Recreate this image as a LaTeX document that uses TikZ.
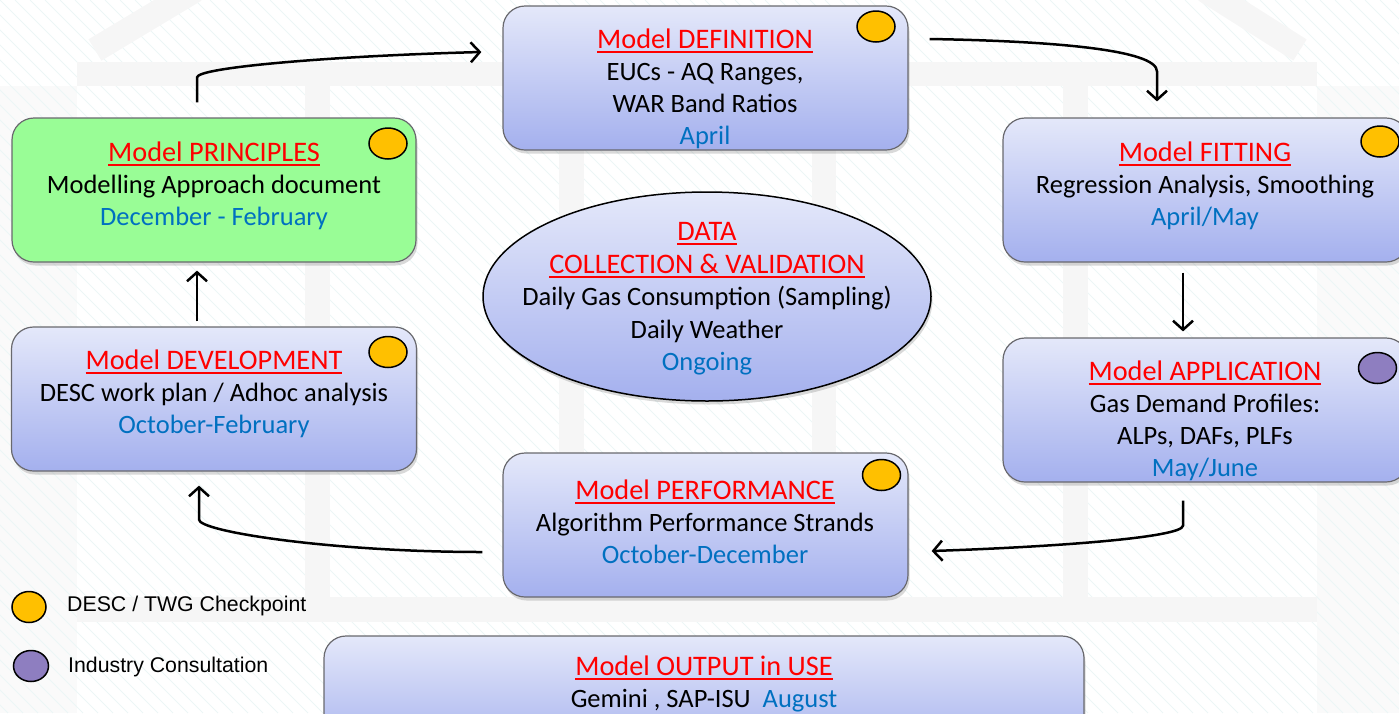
\documentclass[tikz,border=0pt]{standalone}
\usepackage{fontspec}
\setmainfont{Carlito}
\newfontfamily\arialf{Liberation Sans}
\usetikzlibrary{arrows.meta,shapes.geometric,shadows}
\definecolor{titlered}{RGB}{255,0,0}
\definecolor{dateblue}{RGB}{0,112,192}
\definecolor{bltop}{RGB}{228,232,250}
\definecolor{blbot}{RGB}{164,176,238}
\definecolor{boxedge}{RGB}{105,105,110}
\definecolor{greenfill}{RGB}{153,253,150}
\definecolor{dotorange}{RGB}{255,192,0}
\definecolor{dotpurple}{RGB}{142,126,192}
\definecolor{bandgray}{RGB}{246,246,246}
\definecolor{outergray}{RGB}{250,250,250}
\definecolor{hatchc}{RGB}{236,246,246}
\newcommand{\ttl}[1]{\textcolor{titlered}{\fontsize{28.3}{32}\selectfont\setbox0\hbox{#1}\rlap{\vrule height -2.6pt depth 4.4pt width \wd0}\box0}}
\newcommand{\dte}[1]{\textcolor{dateblue}{#1}}
\tikzset{
  basebox/.style={draw=boxedge, line width=1.2pt, rounded corners=22pt, inner sep=0pt,
    drop shadow={shadow xshift=1.5pt, shadow yshift=-3.5pt, opacity=0.3}},
  bluestage/.style={basebox, top color=bltop, bottom color=blbot, minimum width=405pt, minimum height=144pt},
  greenstage/.style={basebox, fill=greenfill, minimum width=404pt, minimum height=144pt},
  txt/.style={align=center, font=\fontsize{26.5}{32}\selectfont, inner sep=0pt},
  dot/.style={ellipse, draw=black, line width=1.5pt, minimum width=38pt, minimum height=31pt, inner sep=0pt},
  arr/.style={line width=2.5pt, -{Straight Barb[length=9pt,width=20pt]}},
  legtxt/.style={font=\arialf\fontsize{21.3}{26}\selectfont, anchor=west, inner sep=0pt},
  hatchline/.style={draw=hatchc, line width=0.8pt}
}
\begin{document}
\begin{tikzpicture}[x=1pt,y=-1pt]
\useasboundingbox (0,0) rectangle (1399,713);
\clip (0,0) rectangle (1399,713);
% faint background building
\fill[outergray] (0,86) rectangle (77,713);
\fill[outergray] (1317,86) rectangle (1399,713);
\foreach \i in {-720,-705,...,1400} \draw[hatchline] (\i,0) -- ++(713,713);
\fill[bandgray] (77,62) rectangle (1317,86);
\fill[bandgray] (305,86) rectangle (330,597);
\fill[bandgray] (559,86) rectangle (584,597);
\fill[bandgray] (812,86) rectangle (836,597);
\fill[bandgray] (1063,86) rectangle (1088,597);
\fill[bandgray] (77,597) rectangle (1317,622);
\draw[bandgray, line width=25pt] (95,50) -- (195,-10);
\draw[bandgray, line width=25pt] (1300,50) -- (1205,-10);

% stages
\node[greenstage] (princ) at (214,190) {};
\node[bluestage] (def) at (705.5,78) {};
\node[bluestage] (fit) at (1205.5,190) {};
\node[bluestage] (app) at (1205.5,410) {};
\node[bluestage] (perf) at (705.5,525) {};
\node[bluestage] (dev) at (214,399) {};
\node[basebox, ellipse, rounded corners=0pt, draw=black, line width=1.5pt, top color=bltop, bottom color=blbot,
      minimum width=448pt, minimum height=209pt] (data) at (707,296.5) {};
\node[bluestage, minimum width=760pt, minimum height=120pt] (out) at (704,696) {};

% texts
\node[txt] (princT) at (214,186) {\ttl{Model PRINCIPLES}\\Modelling Approach document\\\dte{December - February}};
\node[txt] (defT) at (705,89) {\ttl{Model DEFINITION}\\EUCs - AQ Ranges,\\ WAR Band Ratios\\\dte{April}};
\node[txt] (fitT) at (1205,186) {\ttl{Model FITTING}\\Regression Analysis, Smoothing\\\dte{April/May}};
\node[txt] (appT) at (1205,421) {\ttl{Model APPLICATION}\\Gas Demand Profiles:\\ALPs, DAFs, PLFs\\\dte{May/June}};
\node[txt] (perfT) at (705,522) {\ttl{Model PERFORMANCE}\\Algorithm Performance Strands\\\dte{October-December}};
\node[txt] (devT) at (214,394) {\ttl{Model DEVELOPMENT}\\DESC work plan / Adhoc analysis\\\dte{October-February}};
\node[txt, font=\fontsize{26.5}{32.5}\selectfont] (dataT) at (707,299) {\ttl{DATA}\\\ttl{COLLECTION \& VALIDATION}\\Daily Gas Consumption (Sampling)\\Daily Weather\\\dte{Ongoing}};
\node[txt] (outT) at (704,684) {\ttl{Model OUTPUT in USE}\\Gemini , SAP-ISU\ \ \dte{August}};

% checkpoint dots
\node[dot, fill=dotorange] (dPrinc) at (388,143.5) {};
\node[dot, fill=dotorange] (dDef) at (876,26.5) {};
\node[dot, fill=dotorange] (dFit) at (1380,141.5) {};
\node[dot, fill=dotpurple] (dApp) at (1377.5,368) {};
\node[dot, fill=dotorange] (dPerf) at (881.5,475) {};
\node[dot, fill=dotorange] (dDev) at (388,352) {};

% legend
\node[dot, fill=dotorange, minimum width=34pt] (legA) at (29,607) {};
\node[dot, fill=dotpurple, minimum width=35pt] (legB) at (31,666) {};
\node[legtxt] (legAT) at (67,606) {DESC / TWG Checkpoint};
\node[legtxt] (legBT) at (68,667) {Industry Consultation};

% arrows
\draw[arr] ([xshift=-17pt,yshift=15pt]princ.north) -- ++(0,-25)
  .. controls +(0,-10) and +(-150,4) .. ([xshift=-21pt,yshift=26pt]def.west);
\draw[arr] ([xshift=21pt,yshift=39pt]def.east)
  .. controls +(120,2) and +(0,-22) .. ([xshift=-48.5pt,yshift=46pt]fit.north)
  -- ([xshift=-48.5pt,yshift=16pt]fit.north);
\draw[arr] ([xshift=-22.5pt,yshift=-10pt]fit.south) -- ([xshift=-22.5pt,yshift=6pt]app.north);
\draw[arr] ([xshift=-22.5pt,yshift=-18pt]app.south) -- ++(0,25)
  .. controls +(0,12) and +(120,-4) .. ([xshift=23pt,yshift=-26pt]perf.east);
\draw[arr] ([xshift=-20pt,yshift=-27pt]perf.west)
  .. controls +(-150,0) and +(0,12) .. ([xshift=-15pt,yshift=-48pt]dev.south)
  -- ([xshift=-15pt,yshift=-14pt]dev.south);
\draw[arr] ([xshift=-17pt,yshift=5pt]dev.north) -- ([xshift=-17pt,yshift=-8pt]princ.south);
\end{tikzpicture}
\end{document}
